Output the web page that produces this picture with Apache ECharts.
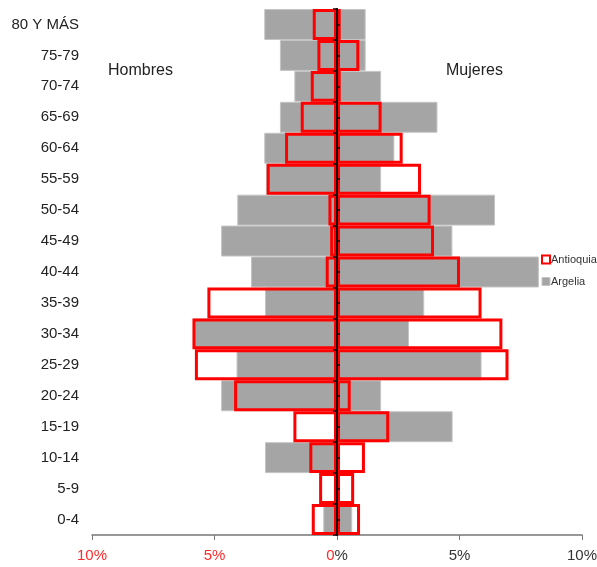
<!DOCTYPE html>
<html>
<head>
<meta charset="utf-8">
<script src="https://cdn.jsdelivr.net/npm/echarts@6/dist/echarts.min.js"></script>
<style>
html,body{margin:0;padding:0;background:#fff;}
#c{width:597px;height:567px;}
</style>
</head>
<body>
<div id="c"></div>
<script>
// Categories bottom to top
var categories = ['0-4','5-9','10-14','15-19','20-24','25-29','30-34','35-39','40-44','45-49','50-54','55-59','60-64','65-69','70-74','75-79','80 Y MÁS'];
// Percent of population
var argeliaHombres = [0.56, 0, 2.94, 0, 4.73, 4.1, 5.85, 2.94, 3.51, 4.73, 4.07, 2.9, 2.97, 2.33, 1.74, 2.33, 2.97];
var argeliaMujeres = [0.62, 0, 0, 4.72, 1.8, 5.9, 2.94, 3.56, 8.24, 4.71, 6.45, 1.8, 2.34, 4.1, 1.8, 1.17, 1.17];
var antioquiaHombres = [1.03, 0.73, 1.13, 1.78, 4.2, 5.8, 5.9, 5.29, 0.46, 0.28, 0.35, 2.87, 2.12, 1.48, 1.07, 0.8, 0.99];
var antioquiaMujeres = [0.94, 0.7, 1.14, 2.13, 0.56, 7.0, 6.75, 5.9, 5.02, 3.96, 3.82, 3.43, 2.68, 1.82, 0.15, 0.91, 0.15];
var xTicks = [-10, -5, 0, 5, 10];

var chart = echarts.init(document.getElementById('c'));
var neg = function (a) { return a.map(function (v) { return -v; }); };
var font = '"Liberation Sans", Arial, sans-serif';

var grayStyle = { color: '#a5a5a5', borderColor: '#c4c4c4', borderWidth: 1 };
var redStyle = { color: 'rgba(0,0,0,0)', borderColor: '#ff0000', borderWidth: 3 };

function barSeries(name, data, style, z) {
  return { name: name, type: 'bar', data: data, barGap: '-100%', barCategoryGap: 0, barWidth: '100%', itemStyle: style, z: z };
}
var gridBox = { left: 92, right: 15, top: 9, bottom: 32, containLabel: false, outerBoundsMode: 'none' };

chart.setOption({
  animation: false,
  backgroundColor: '#fff',
  grid: [gridBox, Object.assign({}, gridBox)],
  legend: {
    orient: 'vertical',
    left: 541,
    top: 254,
    padding: 0,
    itemWidth: 8,
    itemHeight: 8,
    itemGap: 11,
    icon: 'rect',
    textStyle: { fontSize: 11, color: '#333', fontFamily: font, padding: [0, 0, 0, -4] },
    data: [
      { name: 'Antioquia', itemStyle: { color: '#fff', borderColor: '#ff0000', borderWidth: 2 } },
      { name: 'Argelia', itemStyle: { color: '#a5a5a5', borderColor: '#c4c4c4', borderWidth: 1 } }
    ]
  },
  xAxis: [{
    type: 'value',
    gridIndex: 0,
    min: xTicks[0],
    max: xTicks[xTicks.length - 1],
    interval: 5,
    splitLine: { show: false },
    axisLine: { show: true, lineStyle: { color: '#777', width: 1.5 } },
    axisTick: { show: true, length: 5, lineStyle: { color: '#777' } },
    axisLabel: {
      margin: 13,
      fontSize: 15,
      fontFamily: font,
      formatter: function (v) {
        if (v < 0) return '{r|' + Math.abs(v) + '%}';
        if (v === 0) return '{r|0}{d|%}';
        return '{d|' + v + '%}';
      },
      rich: {
        r: { color: '#ff2a2a', fontSize: 15, fontFamily: font },
        d: { color: '#333', fontSize: 15, fontFamily: font }
      }
    }
  }, {
    type: 'value',
    gridIndex: 1,
    min: xTicks[0],
    max: xTicks[xTicks.length - 1],
    show: false
  }],
  yAxis: [
    {
      type: 'category',
      gridIndex: 0,
      data: categories,
      position: 'left',
      axisLine: { show: false, onZero: false },
      axisTick: { show: false },
      axisLabel: { margin: 13, fontSize: 15, color: '#222', fontFamily: font }
    },
    {
      type: 'category',
      gridIndex: 0,
      data: categories,
      position: 'left',
      z: 10,
      axisLine: { show: true, onZero: true, lineStyle: { color: '#1a0000', width: 2 } },
      axisTick: { show: true, length: 4, lineStyle: { color: '#1a0000', width: 1.5 } },
      axisLabel: { show: false }
    },
    {
      type: 'category',
      gridIndex: 1,
      data: categories,
      position: 'left',
      z: 10,
      axisLine: { show: true, onZero: true, lineStyle: { color: '#1a0000', width: 2 } },
      axisTick: { show: true, alignWithLabel: true, inside: true, length: 3, lineStyle: { color: '#1a0000', width: 1.5 } },
      axisLabel: { show: false }
    }
  ],
  series: [
    barSeries('Argelia', neg(argeliaHombres), grayStyle, 2),
    barSeries('Argelia', argeliaMujeres, grayStyle, 2),
    barSeries('Antioquia', neg(antioquiaHombres), redStyle, 3),
    barSeries('Antioquia', antioquiaMujeres, redStyle, 3)
  ],
  graphic: [
    { type: 'text', left: 108, top: 63, style: { text: 'Hombres', fontSize: 16, fill: '#222', fontFamily: font } },
    { type: 'text', left: 446, top: 63, style: { text: 'Mujeres', fontSize: 16, fill: '#222', fontFamily: font } }
  ]
});
</script>
</body>
</html>
